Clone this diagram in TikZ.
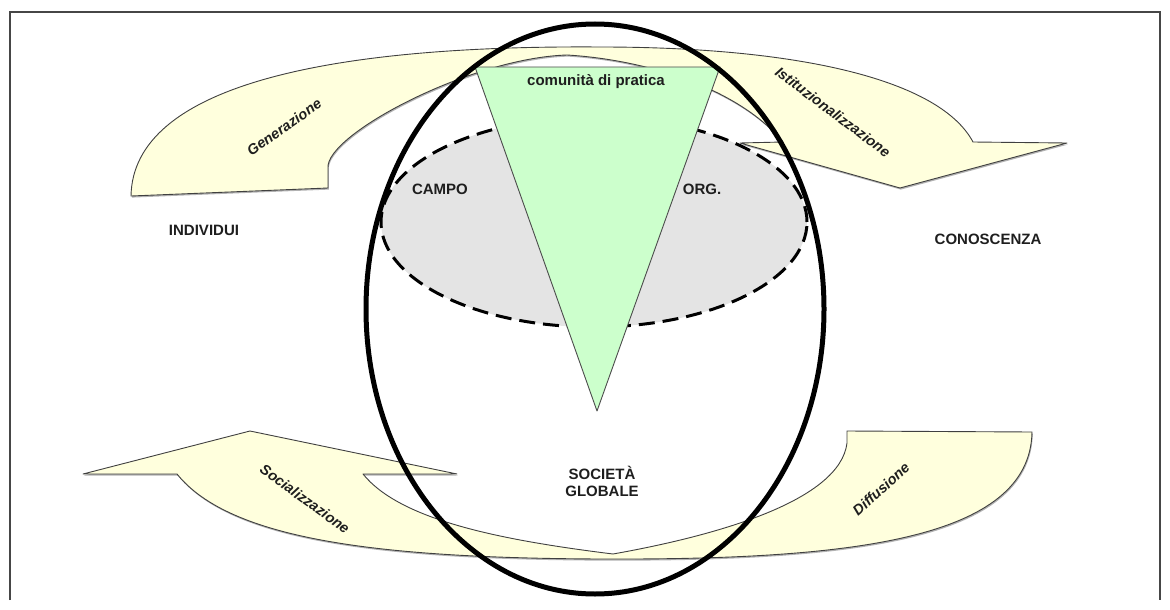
\documentclass[tikz,border=0pt]{standalone}
\usepackage{fontspec}
\setmainfont{Liberation Sans}
\usetikzlibrary{shadows}
\definecolor{bandyellow}{RGB}{255,255,221}
\definecolor{praxisgreen}{RGB}{204,255,204}
\definecolor{fieldgray}{RGB}{228,228,228}
\definecolor{inkgray}{RGB}{30,30,30}
\definecolor{framegray}{RGB}{70,70,70}
\tikzset{
  bandshape/.style={fill=bandyellow,draw=black!75,line width=0.9pt,line join=round,
    general shadow={fill=black!30,shadow xshift=0.8pt,shadow yshift=-1.6pt}},
  fieldshape/.style={fill=fieldgray,draw=black,line width=3pt,dash pattern=on 16pt off 8pt},
  praxisshape/.style={fill=praxisgreen,draw=black!70,line width=0.9pt,line join=round},
  societyshape/.style={draw=black,line width=5pt},
  caplabel/.style={font=\fontsize{15}{17}\selectfont\bfseries,text=inkgray,inner sep=0pt,align=center},
  flowlabel/.style={font=\fontsize{14.5}{17}\selectfont\bfseries\itshape,text=inkgray,inner sep=0pt}
}

\begin{document}
\begin{tikzpicture}[x=1pt,y=-1pt]
  \useasboundingbox (0,0) rectangle (1170,610);
  % frame
  \draw[framegray,line width=1.5pt] (10,600) -- (10,12) -- (1160,12) -- (1160,600);
  % upper band
  \path[bandshape] (131,196) .. controls (133,85) and (330,45) .. (600,47)
    .. controls (800,47) and (940,80) .. (973,142)
    -- (1067,143) -- (900,188) -- (740,143) -- (783,142)
    .. controls (740,90) and (650,60) .. (567,55)
    .. controls (470,58) and (325,135) .. (328,168)
    -- (328,188) -- cycle;
  % lower band
  \path[bandshape] (177,474) .. controls (230,540) and (380,558) .. (600,559)
    .. controls (850,560) and (1030,540) .. (1032,432)
    -- (847,431) -- (847,443)
    .. controls (840,500) and (720,535) .. (613,554)
    .. controls (500,540) and (400,520) .. (363,474)
    -- (457,474) -- (250,431) -- (83,474) -- cycle;
  % campo / org
  \path[fieldshape] (594,222) ellipse [x radius=213pt,y radius=105pt];
  % comunita di pratica
  \path[praxisshape] (475,67) -- (720,67) -- (597,411) -- cycle;
  % societa globale
  \path[societyshape] (595,309) ellipse [x radius=229pt,y radius=285pt];

  \node[caplabel] (comunita) at (596,82) {comunità di pratica};
  \node[caplabel] (campo) at (440,189) {CAMPO};
  \node[caplabel] (org) at (702,189) {ORG.};
  \node[caplabel] (individui) at (204,230) {INDIVIDUI};
  \node[caplabel] (conoscenza) at (988,239) {CONOSCENZA};
  \node[caplabel] (societa) at (602,481) {SOCIETÀ\\GLOBALE};
  \node[flowlabel,rotate=35] (generazione) at (284,127) {Generazione};
  \node[flowlabel,rotate=-37] (istituz) at (833,112) {Istituzionalizzazione};
  \node[flowlabel,rotate=-36] (socializz) at (305,499) {Socializzazione};
  \node[flowlabel,rotate=42] (diffusione) at (881,489) {Diffusione};
\end{tikzpicture}
\end{document}
